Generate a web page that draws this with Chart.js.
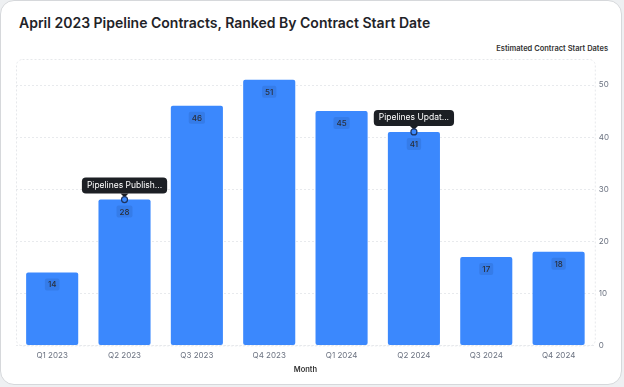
<!DOCTYPE html>
<html>
<head>
<meta charset="utf-8">
<script src="https://cdn.jsdelivr.net/npm/chart.js@4/dist/chart.umd.min.js"></script>
<style>
  html, body { margin: 0; padding: 0; background: #eef0f2; }
  .card {
    position: absolute; left: 0; top: 0; width: 620px; height: 383px;
    background: #fff; border: 1px solid #d6d8db; border-radius: 14px; overflow: hidden;
    font-family: Inter, "Noto Sans", sans-serif;
  }
  .title { position: absolute; left: 18px; top: 13px; font-size: 14px; font-weight: 600; color: #1f2328; }
  .ytitle { position: absolute; right: 13px; top: 43px; font-size: 7.5px; font-weight: 600; color: #333; }
  canvas { position: absolute; left: 0; top: 0; }
</style>
</head>
<body>
<div class="card">
  <div class="title">April 2023 Pipeline Contracts, Ranked By Contract Start Date</div>
  <div class="ytitle">Estimated Contract Start Dates</div>
  <canvas id="contractChart" width="620" height="383"></canvas>
</div>
<script>
const quarters = ['Q1 2023', 'Q2 2023', 'Q3 2023', 'Q4 2023', 'Q1 2024', 'Q2 2024', 'Q3 2024', 'Q4 2024']
const contracts = [14, 28, 46, 51, 45, 41, 17, 18]
const yTicks = [0, 10, 20, 30, 40, 50]
// hover notes shown in the picture
const noteIndex = [1, 5]
const noteText = ['Pipelines Publish...', 'Pipelines Updat...']

const barLabels = {
  id: 'barLabels',
  afterDatasetsDraw(chart) {
    const ctx = chart.ctx
    const meta = chart.getDatasetMeta(0)
    ctx.save()
    ctx.font = '500 8px Inter, sans-serif'
    ctx.textAlign = 'center'
    ctx.textBaseline = 'middle'
    meta.data.forEach((bar, i) => {
      const txt = String(contracts[i])
      const w = ctx.measureText(txt).width + 6
      const y = bar.y + 12
      ctx.fillStyle = 'rgba(20,40,90,0.12)'
      ctx.beginPath()
      ctx.roundRect(bar.x - w / 2, y - 6, w, 12, 2)
      ctx.fill()
      ctx.fillStyle = '#2a2f3a'
      ctx.fillText(txt, bar.x, y + 0.5)
    })
    ctx.restore()
  }
}

const notes = {
  id: 'notes',
  afterDraw(chart) {
    const ctx = chart.ctx
    const meta = chart.getDatasetMeta(0)
    ctx.save()
    ctx.font = '8.5px Inter, sans-serif'
    ctx.textAlign = 'center'
    ctx.textBaseline = 'middle'
    noteIndex.forEach((idx, k) => {
      const bar = meta.data[idx]
      const w = ctx.measureText(noteText[k]).width + 10
      const h = 16
      const bottom = bar.y - 6
      ctx.fillStyle = '#1c1f24'
      ctx.beginPath()
      ctx.roundRect(bar.x - w / 2, bottom - h, w, h, 4)
      ctx.fill()
      ctx.beginPath()
      ctx.moveTo(bar.x - 4, bottom)
      ctx.lineTo(bar.x + 4, bottom)
      ctx.lineTo(bar.x, bottom + 4)
      ctx.fill()
      ctx.fillStyle = '#fff'
      ctx.fillText(noteText[k], bar.x, bottom - h / 2)
      // point marker
      ctx.beginPath()
      ctx.arc(bar.x, bar.y, 3, 0, Math.PI * 2)
      ctx.fillStyle = '#3b88fd'
      ctx.fill()
      ctx.lineWidth = 1.2
      ctx.strokeStyle = '#1d3460'
      ctx.stroke()
    })
    ctx.restore()
  }
}

const plotBorder = {
  id: 'plotBorder',
  beforeDatasetsDraw(chart) {
    const a = chart.chartArea
    const ctx = chart.ctx
    ctx.save()
    ctx.strokeStyle = '#e6e8eb'
    ctx.setLineDash([2, 2])
    ctx.lineWidth = 1
    ctx.beginPath()
    ctx.roundRect(a.left + 0.5, a.top + 0.5, a.right - a.left, a.bottom - a.top, 6)
    ctx.stroke()
    ctx.restore()
  }
}

new Chart(document.getElementById('contractChart'), {
  type: 'bar',
  data: {
    labels: quarters,
    datasets: [{
      data: contracts,
      backgroundColor: '#3b88fd',
      borderRadius: 2,
      borderSkipped: false,
      categoryPercentage: 0.72,
      barPercentage: 1
    }]
  },
  options: {
    responsive: false,
    animation: false,
    layout: { padding: { left: 15, top: 58, right: 8, bottom: 10 } },
    plugins: { legend: { display: false }, tooltip: { enabled: false } },
    scales: {
      x: {
        grid: { display: false, drawTicks: false },
        border: { display: false },
        ticks: { color: '#6b7280', font: { family: 'Inter', size: 8 }, padding: 5 },
        title: { display: true, text: 'Month', color: '#333', font: { family: 'Inter', size: 7.5, weight: '600' }, padding: { top: 0, bottom: 0 } }
      },
      y: {
        position: 'right',
        min: 0,
        max: 55,
        afterBuildTicks: axis => { axis.ticks = yTicks.map(v => ({ value: v })) },
        grid: { color: '#e8eaed', drawTicks: false },
        border: { display: false, dash: [2, 2] },
        ticks: { color: '#6b7280', font: { family: 'Inter', size: 8 }, padding: 4 }
      }
    }
  },
  plugins: [plotBorder, barLabels, notes]
})
</script>
</body>
</html>
